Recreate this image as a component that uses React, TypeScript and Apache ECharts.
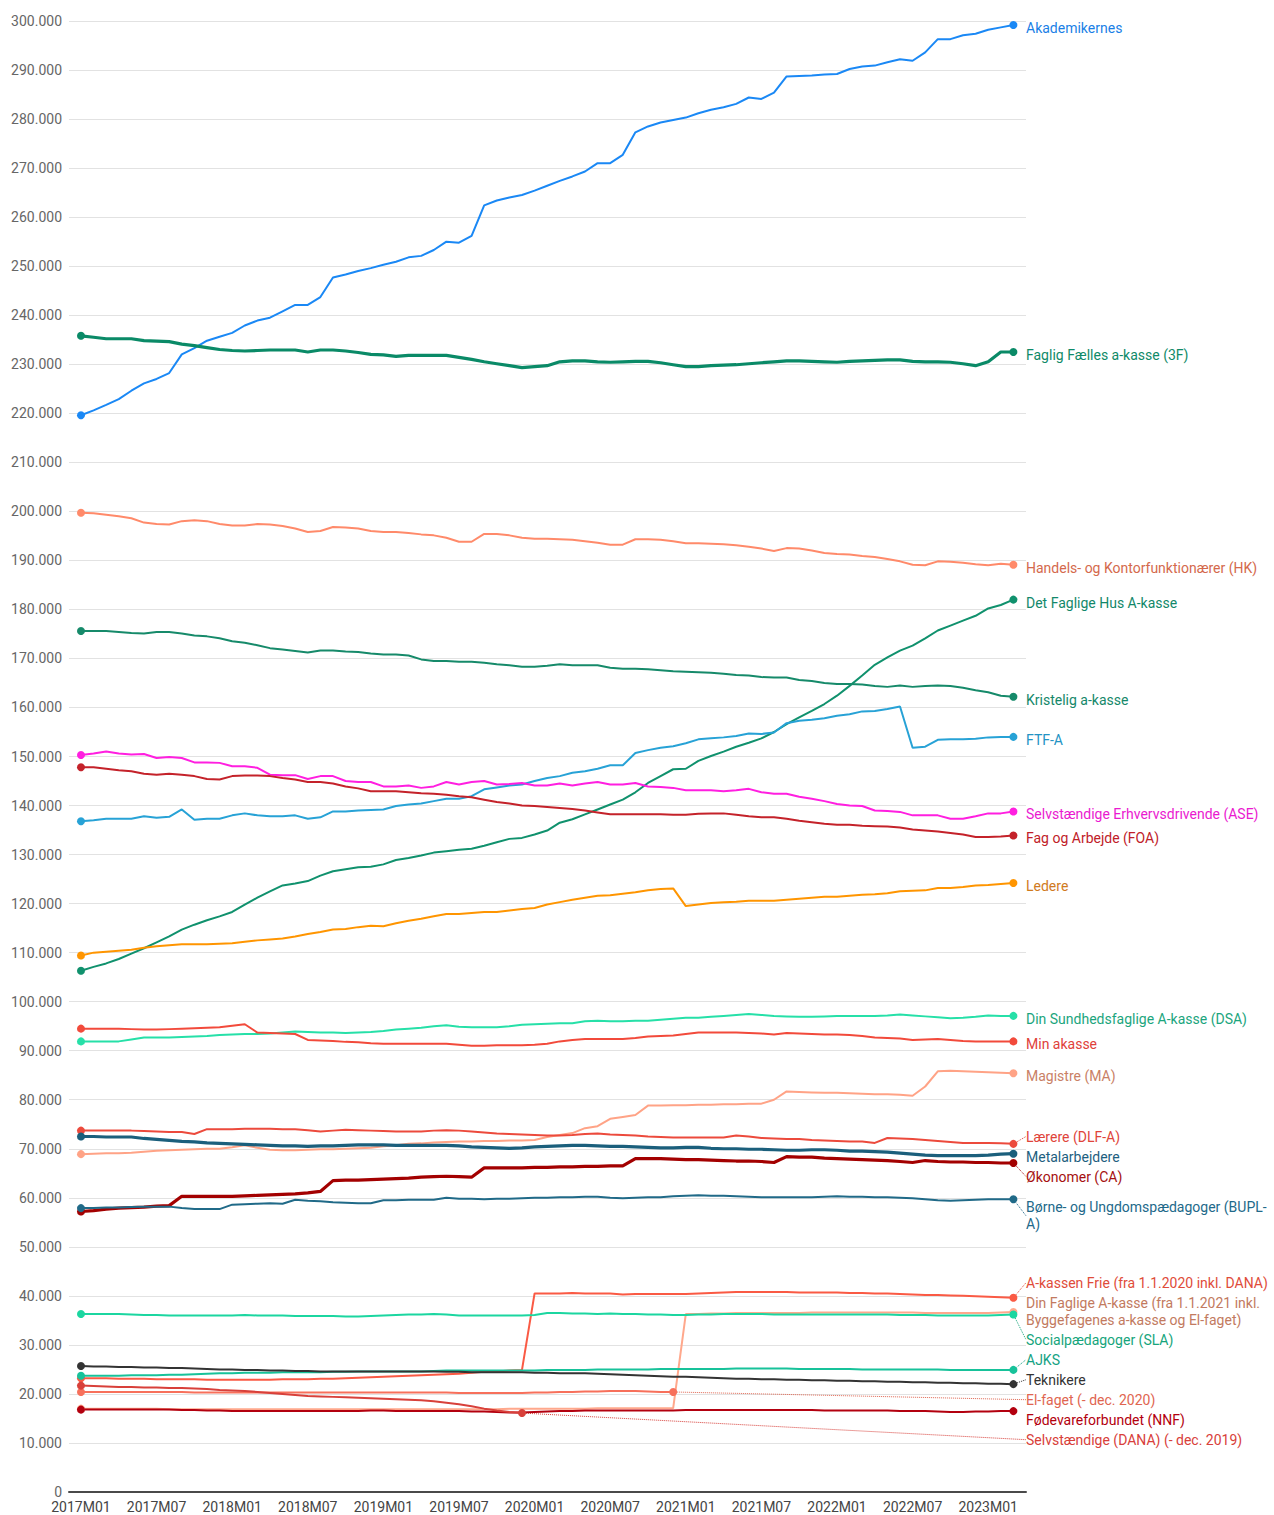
import React, { useEffect, useRef } from "react";
import * as echarts from "echarts";

// Months 2017M01 .. 2023M03
const MONTHS: string[] = [];
for (let y = 2017; y <= 2023; y++) {
  for (let m = 1; m <= 12; m++) {
    if (y === 2023 && m > 3) break;
    MONTHS.push(`${y}M${String(m).padStart(2, "0")}`);
  }
}
const TICK_LABELS = ["2017M01", "2017M07", "2018M01", "2018M07", "2019M01", "2019M07", "2020M01", "2020M07", "2021M01", "2021M07", "2022M01", "2022M07", "2023M01"];

// values in thousands of members
const akademikernes = [219.6,220.6,221.7,222.9,224.6,226.1,227.0,228.2,232.0,233.3,234.8,235.6,236.4,237.9,238.9,239.5,240.8,242.1,242.1,243.7,247.7,248.3,249.0,249.6,250.3,250.9,251.8,252.1,253.3,255.0,254.8,256.2,262.4,263.4,264.0,264.5,265.4,266.4,267.4,268.3,269.3,271.0,271.0,272.7,277.3,278.5,279.3,279.8,280.3,281.2,281.9,282.4,283.1,284.4,284.1,285.4,288.7,288.8,288.9,289.1,289.2,290.2,290.7,290.9,291.6,292.2,291.9,293.6,296.3,296.3,297.1,297.4,298.2,298.7,299.2];
const fagligFaelles3F = [235.8,235.5,235.2,235.2,235.2,234.8,234.7,234.6,234.1,233.8,233.4,233.0,232.8,232.7,232.8,232.9,232.9,232.9,232.5,232.9,232.9,232.7,232.4,232.0,231.9,231.6,231.8,231.8,231.8,231.8,231.4,231.0,230.5,230.1,229.7,229.3,229.5,229.7,230.5,230.7,230.7,230.5,230.4,230.5,230.6,230.6,230.3,229.9,229.5,229.5,229.7,229.8,229.9,230.1,230.3,230.5,230.7,230.7,230.6,230.5,230.4,230.6,230.7,230.8,230.9,230.9,230.6,230.5,230.5,230.4,230.1,229.7,230.5,232.5,232.5];
const hk = [199.7,199.6,199.3,199.0,198.6,197.7,197.4,197.3,198.0,198.2,198.0,197.4,197.1,197.1,197.4,197.3,197.0,196.5,195.8,196.0,196.8,196.7,196.5,196.0,195.8,195.8,195.6,195.3,195.1,194.6,193.8,193.8,195.4,195.4,195.1,194.6,194.4,194.4,194.3,194.2,193.9,193.6,193.2,193.2,194.3,194.3,194.2,193.9,193.5,193.5,193.4,193.3,193.1,192.8,192.4,191.9,192.5,192.4,192.0,191.5,191.3,191.2,190.9,190.7,190.3,189.8,189.1,189.0,189.8,189.7,189.5,189.2,189.0,189.3,189.1];
const detFagligeHus = [106.3,107.1,107.8,108.7,109.8,110.9,112.1,113.3,114.7,115.7,116.6,117.4,118.3,119.8,121.2,122.5,123.7,124.1,124.6,125.7,126.6,127.0,127.4,127.5,128.0,128.9,129.3,129.8,130.4,130.7,131.0,131.2,131.8,132.5,133.2,133.4,134.1,134.9,136.5,137.2,138.2,139.2,140.2,141.2,142.7,144.6,146.0,147.4,147.5,149.1,150.1,151.0,152.0,152.8,153.7,155.0,156.6,158.0,159.3,160.7,162.4,164.4,166.5,168.7,170.2,171.6,172.6,174.1,175.7,176.7,177.7,178.7,180.2,180.9,182.0];
const kristelig = [175.6,175.6,175.6,175.4,175.2,175.1,175.4,175.4,175.1,174.7,174.5,174.1,173.5,173.2,172.7,172.1,171.8,171.5,171.2,171.6,171.6,171.4,171.3,171.0,170.8,170.8,170.6,169.8,169.5,169.5,169.3,169.3,169.1,168.8,168.6,168.3,168.3,168.5,168.8,168.6,168.6,168.6,168.1,167.9,167.9,167.8,167.6,167.4,167.3,167.2,167.1,166.9,166.6,166.5,166.2,166.1,166.1,165.6,165.4,165.0,164.8,164.8,164.7,164.4,164.2,164.5,164.2,164.4,164.5,164.4,164.0,163.5,163.1,162.4,162.2];
const ftfA = [136.8,137.0,137.3,137.3,137.3,137.8,137.5,137.7,139.2,137.1,137.3,137.3,138.0,138.4,138.0,137.8,137.8,138.0,137.3,137.6,138.8,138.8,139.0,139.1,139.2,139.9,140.2,140.4,140.9,141.4,141.4,141.9,143.3,143.7,144.1,144.3,145.0,145.6,146.0,146.7,147.0,147.5,148.2,148.2,150.7,151.3,151.8,152.1,152.7,153.5,153.7,153.9,154.2,154.7,154.6,154.9,156.8,157.3,157.5,157.8,158.3,158.6,159.2,159.3,159.7,160.2,151.8,152.0,153.4,153.5,153.5,153.6,153.9,154.0,154.0];
const ase = [150.3,150.6,151.0,150.6,150.4,150.5,149.7,149.9,149.7,148.8,148.8,148.7,148.0,148.0,147.7,146.3,146.2,146.2,145.4,146.0,146.0,145.0,144.8,144.8,143.9,143.9,144.1,143.6,143.9,144.8,144.3,144.8,145.0,144.3,144.4,144.6,144.1,144.1,144.5,144.1,144.5,144.8,144.3,144.3,144.6,143.9,143.8,143.6,143.1,143.1,143.1,142.9,143.1,143.4,142.7,142.4,142.4,141.8,141.4,140.9,140.3,140.0,139.9,139.0,138.9,138.7,138.0,138.0,138.0,137.3,137.3,137.8,138.4,138.4,138.8];
const foa = [147.8,147.8,147.5,147.2,147.0,146.5,146.3,146.5,146.3,146.0,145.4,145.3,146.0,146.1,146.1,146.0,145.6,145.3,144.8,144.8,144.5,143.9,143.5,142.9,142.9,142.9,142.7,142.5,142.4,142.2,141.9,141.7,141.2,140.7,140.4,140.0,139.9,139.7,139.5,139.3,139.0,138.6,138.2,138.2,138.2,138.2,138.2,138.1,138.1,138.3,138.4,138.4,138.1,137.8,137.6,137.6,137.3,136.9,136.6,136.3,136.1,136.1,135.9,135.8,135.7,135.5,135.1,134.9,134.7,134.4,134.1,133.6,133.6,133.7,133.9];
const ledere = [109.4,110.0,110.2,110.4,110.6,111.0,111.3,111.5,111.7,111.7,111.7,111.8,111.9,112.2,112.5,112.7,112.9,113.3,113.8,114.2,114.7,114.8,115.2,115.5,115.4,116.0,116.5,116.9,117.4,117.9,117.9,118.1,118.3,118.3,118.6,118.9,119.1,119.8,120.3,120.8,121.2,121.6,121.7,122.0,122.3,122.7,123.0,123.1,119.5,119.8,120.1,120.3,120.4,120.6,120.6,120.6,120.8,121.0,121.2,121.4,121.4,121.6,121.8,121.9,122.1,122.5,122.6,122.7,123.2,123.2,123.4,123.7,123.8,124.0,124.2];
const dsa = [91.9,91.9,91.9,91.9,92.3,92.7,92.7,92.7,92.8,92.9,93.0,93.2,93.3,93.4,93.4,93.5,93.7,93.9,93.8,93.7,93.7,93.6,93.7,93.8,94.0,94.3,94.5,94.7,95.0,95.2,94.9,94.8,94.8,94.8,95.0,95.3,95.4,95.5,95.6,95.6,96.0,96.1,96.0,96.0,96.1,96.1,96.3,96.5,96.7,96.7,96.9,97.1,97.3,97.5,97.3,97.1,97.0,96.9,96.9,97.0,97.1,97.1,97.1,97.1,97.2,97.4,97.2,97.0,96.8,96.6,96.7,96.9,97.2,97.1,97.1];
const minAkasse = [94.5,94.5,94.5,94.5,94.4,94.3,94.3,94.4,94.5,94.6,94.7,94.8,95.1,95.4,93.7,93.6,93.5,93.4,92.2,92.1,92.0,91.8,91.7,91.5,91.4,91.4,91.4,91.4,91.4,91.4,91.2,91.0,91.0,91.1,91.1,91.1,91.2,91.4,91.9,92.2,92.4,92.4,92.4,92.4,92.6,92.9,93.0,93.1,93.4,93.7,93.7,93.7,93.7,93.6,93.5,93.3,93.6,93.5,93.4,93.3,93.3,93.2,93.0,92.7,92.6,92.5,92.2,92.3,92.4,92.2,92.0,91.9,91.9,91.9,91.9];
const magistre = [68.9,69.0,69.1,69.1,69.2,69.4,69.6,69.7,69.8,69.9,70.0,70.0,70.3,70.7,70.2,69.8,69.7,69.7,69.8,69.9,69.9,70.0,70.1,70.2,70.5,70.7,71.0,71.1,71.3,71.4,71.5,71.5,71.6,71.6,71.7,71.7,71.8,72.4,72.8,73.2,74.2,74.6,76.1,76.5,76.9,78.8,78.8,78.9,78.9,79.0,79.0,79.1,79.1,79.2,79.2,80.0,81.7,81.6,81.5,81.4,81.4,81.3,81.2,81.1,81.1,81.0,80.8,82.7,85.8,85.9,85.8,85.7,85.6,85.5,85.4];
const laerere = [73.7,73.7,73.7,73.7,73.7,73.6,73.5,73.4,73.4,73.0,74.0,74.0,74.0,74.1,74.1,74.1,74.0,74.0,73.8,73.5,73.7,73.9,73.8,73.7,73.6,73.5,73.5,73.5,73.7,73.8,73.7,73.5,73.3,73.1,73.0,72.9,72.8,72.7,72.7,72.8,73.0,73.1,72.9,72.8,72.7,72.5,72.4,72.3,72.3,72.3,72.3,72.3,72.7,72.5,72.2,72.1,72.0,72.0,71.8,71.7,71.6,71.5,71.5,71.2,72.2,72.1,72.0,71.8,71.6,71.4,71.2,71.2,71.2,71.1,71.0];
const metal = [72.5,72.5,72.4,72.4,72.4,72.1,71.9,71.7,71.5,71.4,71.2,71.1,71.0,70.9,70.8,70.7,70.6,70.6,70.5,70.6,70.6,70.7,70.8,70.8,70.8,70.7,70.7,70.7,70.7,70.7,70.6,70.4,70.3,70.2,70.1,70.2,70.4,70.5,70.6,70.7,70.7,70.6,70.5,70.5,70.4,70.3,70.2,70.2,70.3,70.3,70.1,70.0,70.0,69.9,69.9,69.8,69.7,69.7,69.8,69.8,69.7,69.5,69.5,69.4,69.3,69.1,68.9,68.7,68.6,68.6,68.6,68.6,68.7,68.9,69.0];
const oekonomer = [57.2,57.4,57.7,57.9,58.0,58.1,58.3,58.4,60.3,60.3,60.3,60.3,60.3,60.4,60.5,60.6,60.7,60.8,61.0,61.3,63.5,63.6,63.6,63.7,63.8,63.9,64.0,64.2,64.3,64.4,64.3,64.2,66.1,66.1,66.1,66.1,66.2,66.2,66.3,66.3,66.4,66.4,66.5,66.5,68.0,68.0,68.0,67.9,67.8,67.8,67.7,67.6,67.5,67.5,67.4,67.2,68.4,68.3,68.3,68.1,68.0,67.9,67.8,67.7,67.6,67.4,67.2,67.6,67.4,67.3,67.3,67.2,67.2,67.1,67.1];
const bupl = [57.9,57.9,58.0,58.0,58.1,58.2,58.2,58.2,57.9,57.7,57.7,57.7,58.6,58.7,58.8,58.9,58.8,59.6,59.4,59.3,59.1,59.0,58.9,58.9,59.5,59.5,59.6,59.6,59.6,60.0,59.8,59.8,59.7,59.8,59.8,59.9,60.0,60.0,60.1,60.1,60.2,60.2,60.0,59.9,60.0,60.1,60.1,60.3,60.4,60.5,60.4,60.4,60.3,60.2,60.1,60.1,60.1,60.1,60.1,60.2,60.3,60.2,60.2,60.1,60.1,60.0,59.9,59.7,59.5,59.4,59.5,59.6,59.7,59.7,59.7];
const akassenFrie = [23.2,23.2,23.2,23.1,23.1,23.1,23.0,23.0,23.0,23.0,22.9,22.9,22.9,22.9,22.9,22.9,23.0,23.0,23.0,23.1,23.1,23.2,23.3,23.4,23.5,23.6,23.7,23.8,23.9,24.0,24.1,24.3,24.5,24.6,24.8,24.9,40.5,40.5,40.5,40.6,40.5,40.5,40.5,40.3,40.4,40.4,40.4,40.4,40.4,40.5,40.6,40.7,40.8,40.8,40.8,40.8,40.8,40.7,40.7,40.7,40.7,40.6,40.6,40.5,40.5,40.4,40.3,40.2,40.2,40.1,40.0,39.9,39.8,39.7,39.6];
const dinFaglige = [17.0,17.0,17.0,17.0,17.0,17.0,17.0,16.9,16.9,16.9,16.9,16.9,16.9,16.9,16.9,16.9,16.9,16.9,16.9,16.9,16.9,16.9,16.9,16.9,16.9,16.9,16.9,16.9,16.9,16.9,16.9,16.9,16.9,16.9,17.0,17.0,17.0,17.0,17.0,17.0,17.0,17.1,17.1,17.1,17.1,17.1,17.1,17.1,36.3,36.3,36.4,36.4,36.5,36.5,36.5,36.5,36.5,36.5,36.6,36.6,36.6,36.6,36.6,36.6,36.6,36.6,36.6,36.5,36.5,36.5,36.5,36.5,36.5,36.6,36.7];
const sla = [36.3,36.3,36.3,36.3,36.2,36.1,36.1,36.0,36.0,36.0,36.0,36.0,36.0,36.1,36.0,36.0,36.0,35.9,35.9,35.9,35.9,35.8,35.8,35.9,36.0,36.1,36.2,36.2,36.3,36.2,36.0,36.0,36.0,36.0,36.0,36.0,36.1,36.5,36.5,36.4,36.4,36.3,36.4,36.3,36.3,36.2,36.2,36.1,36.1,36.2,36.2,36.3,36.3,36.3,36.3,36.2,36.2,36.2,36.2,36.2,36.2,36.2,36.2,36.2,36.2,36.1,36.1,36.1,36.0,36.0,36.0,36.0,36.0,36.1,36.2];
const ajks = [23.7,23.7,23.7,23.7,23.8,23.8,23.8,23.9,23.9,24.0,24.1,24.2,24.2,24.3,24.3,24.3,24.4,24.4,24.4,24.4,24.5,24.5,24.6,24.6,24.6,24.6,24.6,24.6,24.7,24.8,24.8,24.8,24.8,24.8,24.8,24.8,24.8,24.9,24.9,24.9,24.9,25.0,25.0,25.0,25.0,25.0,25.1,25.1,25.1,25.1,25.1,25.1,25.2,25.2,25.2,25.2,25.2,25.1,25.1,25.1,25.1,25.1,25.0,25.0,25.0,25.0,25.0,25.0,25.0,24.9,24.9,24.9,24.9,24.9,24.9];
const teknikere = [25.7,25.6,25.6,25.5,25.5,25.4,25.4,25.3,25.3,25.2,25.1,25.0,25.0,24.9,24.9,24.8,24.8,24.7,24.7,24.6,24.6,24.6,24.6,24.6,24.6,24.6,24.6,24.6,24.6,24.5,24.5,24.4,24.4,24.4,24.4,24.4,24.3,24.3,24.2,24.2,24.2,24.1,24.0,23.9,23.8,23.7,23.6,23.5,23.5,23.4,23.3,23.2,23.1,23.1,23.0,23.0,22.9,22.9,22.8,22.8,22.7,22.7,22.6,22.6,22.5,22.5,22.4,22.4,22.3,22.3,22.2,22.2,22.1,22.1,22.0];
const elFaget = [20.4,20.4,20.4,20.4,20.4,20.4,20.4,20.4,20.4,20.3,20.3,20.3,20.3,20.3,20.3,20.3,20.3,20.3,20.3,20.3,20.3,20.3,20.3,20.3,20.3,20.3,20.3,20.3,20.3,20.3,20.2,20.2,20.2,20.2,20.2,20.2,20.3,20.3,20.4,20.4,20.5,20.5,20.6,20.6,20.6,20.5,20.4,20.4];
const nnf = [16.8,16.8,16.8,16.8,16.8,16.8,16.8,16.8,16.7,16.7,16.6,16.6,16.5,16.5,16.5,16.5,16.5,16.5,16.5,16.5,16.5,16.5,16.5,16.6,16.6,16.5,16.5,16.5,16.5,16.5,16.5,16.4,16.4,16.3,16.2,16.2,16.3,16.4,16.5,16.5,16.6,16.6,16.6,16.6,16.6,16.6,16.6,16.6,16.7,16.7,16.7,16.7,16.7,16.7,16.7,16.7,16.7,16.7,16.7,16.6,16.6,16.6,16.6,16.6,16.6,16.5,16.5,16.5,16.4,16.3,16.3,16.4,16.4,16.5,16.5];
const danaSelvst = [21.7,21.6,21.5,21.4,21.4,21.3,21.3,21.2,21.2,21.1,21.0,20.8,20.7,20.6,20.4,20.2,20.0,19.8,19.6,19.5,19.4,19.3,19.2,19.1,19.0,18.9,18.8,18.7,18.5,18.2,17.9,17.5,17.0,16.6,16.3,16.1];

type Def = { name: string; text: string; data: number[]; color: string; labelColor: string; width: number; guide?: boolean };

const SERIES: Def[] = [
  { name: "Akademikernes", text: "Akademikernes", data: akademikernes, color: "#1a88f5", labelColor: "#1a7fe6", width: 2 },
  { name: "Faglig Fælles a-kasse (3F)", text: "Faglig Fælles a-kasse (3F)", data: fagligFaelles3F, color: "#0a8a67", labelColor: "#0f8a68", width: 3.2 },
  { name: "Handels- og Kontorfunktionærer (HK)", text: "Handels- og Kontorfunktionærer (HK)", data: hk, color: "#ff8a6a", labelColor: "#d4694c", width: 2 },
  { name: "Det Faglige Hus A-kasse", text: "Det Faglige Hus A-kasse", data: detFagligeHus, color: "#10916d", labelColor: "#12886a", width: 2 },
  { name: "Kristelig a-kasse", text: "Kristelig a-kasse", data: kristelig, color: "#168a6a", labelColor: "#15886a", width: 2 },
  { name: "FTF-A", text: "FTF-A", data: ftfA, color: "#27a2d6", labelColor: "#2393c4", width: 2 },
  { name: "Selvstændige Erhvervsdrivende (ASE)", text: "Selvstændige Erhvervsdrivende (ASE)", data: ase, color: "#ff1fe0", labelColor: "#ea1ad0", width: 2 },
  { name: "Fag og Arbejde (FOA)", text: "Fag og Arbejde (FOA)", data: foa, color: "#c4222a", labelColor: "#c02028", width: 2 },
  { name: "Ledere", text: "Ledere", data: ledere, color: "#ff9500", labelColor: "#d07a1e", width: 2 },
  { name: "Din Sundhedsfaglige A-kasse (DSA)", text: "Din Sundhedsfaglige A-kasse (DSA)", data: dsa, color: "#26e0a8", labelColor: "#1ba57d", width: 2 },
  { name: "Min akasse", text: "Min akasse", data: minAkasse, color: "#f24a3b", labelColor: "#e0413a", width: 2 },
  { name: "Magistre (MA)", text: "Magistre (MA)", data: magistre, color: "#ffa386", labelColor: "#c97f66", width: 2 },
  { name: "Lærere (DLF-A)", text: "Lærere (DLF-A)", data: laerere, color: "#ec4a3c", labelColor: "#e0443a", width: 2, guide: true },
  { name: "Metalarbejdere", text: "Metalarbejdere", data: metal, color: "#1b5f7c", labelColor: "#1d6080", width: 3.2 },
  { name: "Økonomer (CA)", text: "Økonomer (CA)", data: oekonomer, color: "#a30000", labelColor: "#a50f0f", width: 3.2, guide: true },
  { name: "Børne- og Ungdomspædagoger (BUPL-A)", text: "Børne- og Ungdomspædagoger (BUPL-\nA)", data: bupl, color: "#206a88", labelColor: "#22698a", width: 2, guide: true },
  { name: "A-kassen Frie (fra 1.1.2020 inkl. DANA)", text: "A-kassen Frie (fra 1.1.2020 inkl. DANA)", data: akassenFrie, color: "#fa5a44", labelColor: "#e04c3a", width: 2, guide: true },
  { name: "Din Faglige A-kasse (fra 1.1.2021 inkl. Byggefagenes a-kasse og El-faget)", text: "Din Faglige A-kasse (fra 1.1.2021 inkl.\nByggefagenes a-kasse og El-faget)", data: dinFaglige, color: "#ffa88c", labelColor: "#c27a60", width: 2 },
  { name: "Socialpædagoger (SLA)", text: "Socialpædagoger (SLA)", data: sla, color: "#1bd6a0", labelColor: "#16a57c", width: 2, guide: true },
  { name: "AJKS", text: "AJKS", data: ajks, color: "#17c29a", labelColor: "#14a283", width: 2, guide: true },
  { name: "Teknikere", text: "Teknikere", data: teknikere, color: "#333333", labelColor: "#333333", width: 2, guide: true },
  { name: "El-faget (- dec. 2020)", text: "El-faget (- dec. 2020)", data: elFaget, color: "#f7705b", labelColor: "#e06550", width: 2, guide: true },
  { name: "Fødevareforbundet (NNF)", text: "Fødevareforbundet (NNF)", data: nnf, color: "#b3000f", labelColor: "#b3000e", width: 2 },
  { name: "Selvstændige (DANA) (- dec. 2019)", text: "Selvstændige (DANA) (- dec. 2019)", data: danaSelvst, color: "#d8403a", labelColor: "#d8403a", width: 2, guide: true },
];

const W = 1274;
const H = 1515;
const GRID = { left: 69, right: 248, top: 21, bottom: 23 };
const LABEL_X = W - GRID.right;
const FONT = "Roboto, 'Noto Sans', sans-serif";
const LINE_H = 17;

// balanced label stacking: labels keep their order and are spread around their anchors
function placeLabels(anchors: number[], lines: number[]): number[] {
  const items = anchors.map((a, i) => ({
    i,
    anchor: a,
    want: a + 3 + (lines[i] - 1) * 13.5,
    h: lines[i] * LINE_H + 3,
  }));
  items.sort((p, q) => p.anchor - q.anchor);
  type Cl = { items: typeof items; top: number; height: number };
  const clusters: Cl[] = [];
  for (const it of items) {
    clusters.push({ items: [it], top: it.want - it.h / 2, height: it.h });
    while (clusters.length > 1) {
      const b = clusters[clusters.length - 1];
      const a = clusters[clusters.length - 2];
      if (a.top + a.height <= b.top) break;
      const merged = [...a.items, ...b.items];
      let off = 0;
      let sum = 0;
      for (const m of merged) {
        sum += m.want - (off + m.h / 2);
        off += m.h;
      }
      clusters.splice(-2, 2, { items: merged, top: sum / merged.length, height: a.height + b.height });
    }
  }
  const out: number[] = new Array(anchors.length).fill(0);
  for (const c of clusters) {
    let off = 0;
    for (const m of c.items) {
      out[m.i] = c.top + off + m.h / 2;
      off += m.h;
    }
  }
  return out;
}

export default function App() {
  const ref = useRef<HTMLDivElement>(null);
  useEffect(() => {
    if (!ref.current) return;
    const chart = echarts.init(ref.current, undefined, { renderer: "svg" });
    const series = SERIES.map((s) => {
      const last = s.data.length - 1;
      const data = s.data.map((v, i) => {
        if (i === 0) return { value: [i, v], symbol: "circle", symbolSize: 8 };
        if (i === last)
          return {
            value: [i, v],
            symbol: "circle",
            symbolSize: 8,
            label: {
              show: true,
              position: "right",
              formatter: s.text,
              color: s.labelColor,
              fontFamily: FONT,
              fontSize: 14,
              lineHeight: LINE_H,
            },
            labelLine: {
              show: !!s.guide,
              lineStyle: { type: "dotted", width: 1, color: s.labelColor },
            },
          };
        return [i, v];
      });
      return {
        type: "line",
        name: s.name,
        data,
        symbol: "none",
        showSymbol: true,
        showAllSymbol: true,
        color: s.color,
        lineStyle: { width: s.width, color: s.color },
        itemStyle: { color: s.color },
        label: { show: false },
        labelLayout: { x: LABEL_X, verticalAlign: "middle" },
        emphasis: { disabled: true },
        silent: true,
      };
    });
    chart.setOption({
      animation: false,
      grid: GRID,
      tooltip: { show: false },
      xAxis: {
        type: "value",
        min: -0.95,
        max: 75,
        splitLine: { show: false },
        axisTick: { show: false },
        axisLine: { show: true, lineStyle: { color: "#4a4a4a", width: 2 } },
        axisLabel: {
          customValues: TICK_LABELS.map((l) => MONTHS.indexOf(l)),
          formatter: (v: number) => MONTHS[Math.round(v)] ?? "",
          color: "#444",
          fontFamily: FONT,
          fontSize: 14,
          margin: 8,
        },
      },
      yAxis: {
        type: "value",
        min: 0,
        max: 300,
        interval: 10,
        axisLine: { show: false },
        axisTick: { show: false },
        splitLine: { lineStyle: { color: "#e2e2e2", width: 1 } },
        axisLabel: {
          formatter: (v: number) => (v === 0 ? "0" : `${v}.000`),
          color: "#666",
          fontFamily: FONT,
          fontSize: 14,
          margin: 7,
        },
      },
      series,
    });

    // compute label positions from the scale, then re-apply layout
    const anchors = SERIES.map((s) => {
      const last = s.data.length - 1;
      const p = chart.convertToPixel({ xAxisIndex: 0, yAxisIndex: 0 }, [last, s.data[last]]) as number[];
      return p[1];
    });
    const lines = SERIES.map((s) => s.text.split("\n").length);
    const ys = placeLabels(anchors, lines);
    chart.setOption({
      series: SERIES.map((_, k) => ({
        labelLayout: { x: LABEL_X, y: ys[k], verticalAlign: "middle", align: "left" },
      })),
    });
    return () => chart.dispose();
  }, []);
  return <div ref={ref} style={{ position: "absolute", left: 0, top: 0, width: W, height: H, background: "#fff" }} />;
}
